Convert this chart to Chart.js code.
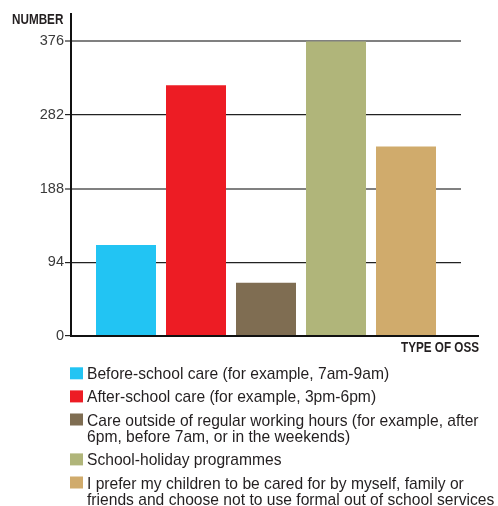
<!DOCTYPE html>
<html>
<head>
<meta charset="utf-8">
<script src="https://cdn.jsdelivr.net/npm/chart.js@4/dist/chart.umd.min.js"></script>
<style>
  html, body { margin: 0; padding: 0; background: #fff; }
  canvas { display: block; }
</style>
</head>
<body>
<canvas id="chart" width="498" height="506"></canvas>
<script>
// Types of out-of-school services (one bar each), legend lines as wrapped
const categories = [
  ['Before-school care (for example, 7am-9am)'],
  ['After-school care (for example, 3pm-6pm)'],
  ['Care outside of regular working hours (for example, after', '6pm, before 7am, or in the weekends)'],
  ['School-holiday programmes'],
  ['I prefer my children to be cared for by myself, family or', 'friends and choose not to use formal out of school services']
];
const values = [116, 320, 68, 376, 242];
const yTicks = [0, 94, 188, 282, 376];
const yTitle = 'NUMBER';
const xTitle = 'TYPE OF OSS';

const barColors = ['#22c4f3', '#ed1c24', '#7f6d52', '#b0b57a', '#d0ab6c'];
const textColor = '#231f20';
const bodyFont = '"Liberation Sans", Arial, sans-serif';

// Draws text squeezed horizontally (condensed look)
function squeezedText(ctx, text, x, y, font, squeeze, align) {
  ctx.save();
  ctx.font = font;
  const w = ctx.measureText(text).width * squeeze;
  const left = align === 'right' ? x - w : x;
  ctx.translate(left, y);
  ctx.scale(squeeze, 1);
  ctx.textAlign = 'left';
  ctx.textBaseline = 'alphabetic';
  ctx.fillText(text, 0, 0);
  ctx.restore();
}

// Axis titles, extended baseline and the stacked legend underneath
const annotations = {
  id: 'annotations',
  afterDatasetsDraw(chart) {
    const { ctx, chartArea } = chart;
    ctx.save();
    ctx.strokeStyle = '#111';
    ctx.lineWidth = 2;
    ctx.beginPath();
    ctx.moveTo(chartArea.left - 1, chartArea.bottom);
    ctx.lineTo(479, chartArea.bottom);
    ctx.stroke();
    ctx.restore();
  },
  afterDraw(chart) {
    const { ctx } = chart;
    ctx.save();
    ctx.fillStyle = textColor;
    const titleFont = 'bold 15px ' + bodyFont;
    squeezedText(ctx, yTitle, 12, 24, titleFont, 0.78, 'left');
    squeezedText(ctx, xTitle, 479, 352, titleFont, 0.78, 'right');

    const legendFont = '16.2px ' + bodyFont;
    const lineH = 16.8, gap = 6.3;
    let top = 367.3;
    chart.data.datasets.forEach((ds, i) => {
      ctx.fillStyle = ds.backgroundColor;
      ctx.fillRect(70, top, 13, 12);
      ctx.fillStyle = textColor;
      categories[i].forEach((line, j) => {
        squeezedText(ctx, line, 87, top + 12 + j * lineH, legendFont, 0.965, 'left');
      });
      top += categories[i].length * lineH + gap;
    });
    ctx.restore();
  }
};

new Chart(document.getElementById('chart'), {
  type: 'bar',
  data: {
    labels: [''],
    datasets: values.map((v, i) => ({
      label: categories[i].join(' '),
      data: [v],
      backgroundColor: barColors[i],
      borderWidth: 0,
      categoryPercentage: 350 / 390,
      barPercentage: 60 / 70
    }))
  },
  options: {
    responsive: false,
    animation: false,
    events: [],
    layout: { padding: { left: 0, top: 14, right: 37, bottom: 170 } },
    plugins: {
      legend: { display: false },
      tooltip: { enabled: false },
      title: { display: false }
    },
    scales: {
      x: {
        type: 'category',
        ticks: { display: false },
        grid: { display: false, drawTicks: false },
        border: { display: false },
        afterFit(scale) { scale.height = 0; }
      },
      y: {
        min: 0,
        max: 411,
        afterBuildTicks(scale) {
          scale.ticks = yTicks.map(v => ({ value: v }));
        },
        afterFit(scale) { scale.width = 71; },
        ticks: {
          color: '#3a3a3a',
          padding: 1,
          font: { family: bodyFont, size: 14.5 }
        },
        grid: {
          drawOnChartArea: true,
          drawTicks: true,
          tickLength: 6,
          color: ctx => (ctx.tick && (ctx.tick.value === 376 || ctx.tick.value === 188)) ? '#808080' : '#222',
          lineWidth: ctx => (ctx.tick && (ctx.tick.value === 376 || ctx.tick.value === 188)) ? 2 : 1.2
        },
        border: { display: true, color: '#111', width: 2 }
      }
    }
  },
  plugins: [annotations]
});
</script>
</body>
</html>
